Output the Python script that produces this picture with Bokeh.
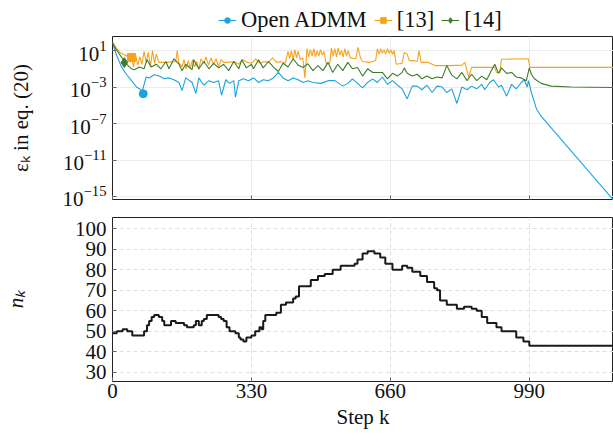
import numpy as np
from bokeh.plotting import figure
from bokeh.layouts import column
from bokeh.models import Range1d, FixedTicker, Legend, LegendItem
from bokeh.embed import file_html
from bokeh.resources import INLINE

# ---------------- data ----------------
# residual eps_k, stored as log10 exponents
admm_k = [0, 9, 21, 33, 47, 57, 71, 80, 87, 99,
          111, 123, 134, 146, 158, 165, 174, 189, 198, 205,
          217, 229, 240, 252, 259, 269, 278, 288, 292, 300,
          311, 323, 335, 347, 358, 370, 382, 394, 405, 417,
          429, 441, 453, 464, 476, 495, 512, 528, 547, 559,
          570, 582, 594, 606, 618, 629, 641, 653, 665, 677,
          688, 700, 712, 724, 735, 747, 759, 771, 783, 794,
          806, 818, 830, 842, 853, 865, 877, 884, 896, 905,
          917, 924, 936, 948, 959, 971, 978, 985, 988, 995,
          1007, 1018, 1190]
admm_exp = [1.8, 0.56, -0.76, -1.6, -2.4, -3.0, -3.4, -1.9, -2.0, -1.65,
            -1.8, -2.1, -2.0, -2.2, -2.5, -3.4, -2.0, -2.5, -3.7, -2.0,
            -2.8, -2.3, -2.5, -2.3, -3.9, -2.2, -2.6, -2.3, -4.1, -2.3,
            -2.1, -2.3, -2.0, -2.5, -2.2, -2.3, -2.0, -1.4, -2.0, -2.3,
            -2.0, -2.2, -2.5, -2.3, -2.5, -2.6, -2.3, -2.3, -2.9, -2.6,
            -2.1, -2.6, -3.1, -2.5, -2.1, -2.5, -1.9, -2.7, -2.3, -2.8,
            -3.2, -4.3, -2.9, -2.9, -3.3, -2.8, -3.6, -2.9, -3.0, -3.6,
            -3.2, -4.8, -3.0, -3.3, -2.9, -3.2, -2.7, -3.3, -2.5, -2.2,
            -3.0, -2.8, -4.0, -2.7, -3.2, -2.5, -2.2, -3.0, -2.3, -3.6,
            -5.4, -6.2, -15.4]

ref13_k = [0, 10, 20, 30, 45, 50, 55, 60, 65, 70,
           75, 80, 85, 90, 95, 100, 104, 110, 130, 150,
           154, 157, 165, 170, 175, 180, 185, 190, 195, 200,
           205, 210, 217, 222, 228, 234, 240, 246, 252, 258,
           264, 275, 290, 300, 310, 320, 330, 340, 350, 360,
           370, 380, 390, 400, 410, 417, 421, 425, 429, 433,
           437, 441, 446, 452, 457, 462, 466, 470, 474, 478,
           482, 486, 490, 494, 498, 502, 508, 516, 520, 524,
           528, 532, 536, 540, 544, 548, 552, 556, 560, 565,
           578, 583, 589, 594, 610, 625, 629, 633, 637, 641,
           645, 649, 653, 657, 661, 665, 669, 674, 688, 693,
           700, 705, 715, 724, 728, 733, 750, 766, 800, 830,
           837, 846, 853, 880, 908, 912, 920, 924, 960, 988,
           991, 1190]
ref13_exp = [2.0, 1.2, 0.7, 0.5, 0.25, -0.8, 0.5, -0.6, 0.3, -0.5,
             0.9, -0.3, 0.8, -0.8, 1.0, -0.4, 0.6, -0.3, -0.3, -0.2,
             1.0, -0.3, -0.8, 0.0, -1.0, -0.1, -0.9, 0.0, -0.8, -0.2,
             -1.1, 0.1, -0.4, 0.3, -0.6, 0.2, -0.5, 0.1, -0.8, 0.0,
             -0.3, -0.3, -0.2, -0.5, 0.0, -0.3, -0.4, 0.1, -0.4, -0.2,
             -0.3, 0.2, -0.3, -0.2, -0.4, 0.9, 0.1, 1.0, 0.0, 1.1,
             0.2, 0.9, 0.0, 0.2, -2.0, 1.2, 0.3, 1.1, 0.4, 1.2,
             0.3, 1.0, 0.4, 1.1, 0.5, 0.9, -0.45, -0.4, 1.3, 0.4,
             1.2, 0.3, 1.3, 0.5, 1.0, 0.3, 1.2, 0.4, 1.0, 0.2,
             0.1, 1.36, 0.2, -0.2, -0.3, -0.1, 1.2, 0.6, 1.2, 0.7,
             1.1, 0.6, 1.2, 0.7, 1.1, 0.6, 1.0, -0.5, -0.4, 0.8,
             0.6, -0.1, -0.1, -0.2, 1.0, -0.3, -0.3, -0.65, -0.65, -0.6,
             -0.3, -1.9, -0.84, -0.84, -0.84, -1.4, -1.4, 0.05, 0.08, 0.1,
             -0.84, -0.84]

ref14_k = [0, 9, 24, 33, 45, 52, 64, 75, 82, 92,
           104, 115, 127, 134, 146, 158, 165, 174, 189, 193,
           205, 217, 229, 240, 252, 264, 276, 288, 300, 307,
           318, 330, 335, 347, 358, 370, 382, 394, 405, 417,
           429, 441, 453, 464, 476, 488, 500, 512, 523, 535,
           547, 559, 570, 582, 594, 606, 618, 629, 641, 653,
           665, 677, 688, 693, 700, 712, 724, 735, 747, 759,
           771, 783, 794, 806, 818, 830, 842, 853, 865, 877,
           889, 900, 908, 917, 924, 936, 948, 959, 971, 983,
           990, 995, 1002, 1018, 1042, 1089, 1190]
ref14_exp = [1.8, 1.1, 0.1, -0.45, -1.0, -1.1, -0.8, -1.0, 0.0, -0.8,
             -0.5, -1.0, -0.2, -1.0, 0.1, -0.5, -1.2, -0.5, -1.1, 0.0,
             -1.0, -0.2, -1.0, -0.4, -0.9, -0.5, -1.2, -0.2, -1.0, 0.0,
             -0.9, -0.5, -1.0, 0.0, -0.9, -0.2, -0.8, -1.3, -0.4, -0.8,
             0.1, -0.6, -0.85, -0.45, -1.2, -0.65, -1.2, -0.3, -1.4, -0.5,
             -1.2, -0.3, -1.0, -0.85, -1.8, -1.0, -1.4, -1.4, -1.4, -2.1,
             -1.5, -1.8, -1.4, -0.9, -1.5, -1.8, -1.6, -2.1, -1.8, -2.1,
             -1.9, -2.0, -0.65, -1.7, -2.1, -1.4, -2.3, -1.6, -2.3, -1.8,
             -2.2, -1.2, -0.5, -1.5, -0.9, -1.5, -1.4, -1.9, -2.0, -2.3,
             -0.9, -1.6, -2.1, -2.6, -2.9, -3.0, -3.05]

# single markers drawn on the curves
admm_mark_k, admm_mark_exp = [73], [-3.74]
ref13_mark_k, ref13_mark_exp = [45], [0.23]
ref14_mark_k, ref14_mark_exp = [28], [-0.32]

# n_k (step plot)
nk_k = [0, 10, 24, 35, 47, 75, 82, 87, 93, 99,
        110, 118, 123, 139, 150, 170, 177, 193, 198, 205,
        212, 217, 224, 245, 252, 258, 264, 271, 278, 292,
        300, 304, 311, 318, 330, 339, 349, 354, 358, 363,
        382, 389, 400, 412, 429, 435, 443, 457, 471, 488,
        504, 523, 542, 559, 575, 582, 594, 606, 622, 636,
        648, 665, 677, 688, 700, 712, 731, 747, 764, 771,
        778, 794, 818, 835, 853, 865, 877, 890, 912, 924,
        948, 959, 976, 990, 1190]
nk_v = [49, 50, 51, 50, 48, 50, 53, 55, 57, 58,
        57, 55, 53, 55, 54, 53, 52, 53, 55, 53,
        55, 56, 58, 58, 57, 56, 55, 52, 50, 49,
        47, 46, 45, 47, 48, 50, 52, 51, 55, 58,
        58, 59, 63, 64, 66, 67, 72, 72, 75, 77,
        78, 80, 82, 82, 83, 85, 88, 89, 88, 86,
        83, 80, 80, 82, 81, 79, 77, 74, 71, 70,
        65, 63, 61, 62, 61, 60, 57, 54, 52, 50,
        50, 47, 45, 43, 43]

x_ticks = [0, 330, 660, 990]
eps_ticks = [1e1, 1e-3, 1e-7, 1e-11, 1e-15]
n_ticks = [30, 40, 50, 60, 70, 80, 90, 100]
labels = ["Open ADMM", "[13]", "[14]"]

# ---------------- styling ----------------
FONT = "Liberation Serif"
FS = "21px"
BLUE = "#1aa3e3"
ORANGE = "#f8a21c"
GREEN = "#3b7d2b"
W = 613
LEFT = 108


def style_axes(p):
    for ax in p.axis:
        ax.major_tick_in = 4
        ax.major_tick_out = 0
        ax.minor_tick_line_color = None
        ax.axis_line_color = None
        ax.major_tick_line_color = "#666666"
        ax.major_label_text_font = FONT
        ax.major_label_text_font_size = FS
        ax.major_label_text_color = "#111111"
        ax.axis_label_text_font = FONT
        ax.axis_label_text_font_size = FS
        ax.axis_label_text_font_style = "normal"
        ax.axis_label_text_color = "#111111"
    p.outline_line_color = "#222222"
    p.outline_line_width = 1


x_range = Range1d(0, 1190)

# ---- legend strip: its own small figure; its renderers hold the marker
# points, which fall outside this strip's ranges, so only the legend shows ----
p0 = figure(width=W, height=36, x_range=Range1d(0, 1), y_range=Range1d(0, 1),
            output_backend="svg", toolbar_location=None,
            min_border_left=LEFT, min_border_right=0, min_border_top=0,
            min_border_bottom=0)
p0.axis.visible = False
p0.grid.visible = False
p0.outline_line_color = None
ya = np.power(10.0, admm_mark_exp)
yb = np.power(10.0, ref13_mark_exp)
yc = np.power(10.0, ref14_mark_exp)
la = p0.line(admm_mark_k, ya, line_color=BLUE, line_width=1.1)
sa = p0.scatter(admm_mark_k, ya, marker="circle", size=7, color=BLUE)
lb = p0.line(ref13_mark_k, yb, line_color=ORANGE, line_width=1.1)
sb = p0.scatter(ref13_mark_k, yb, marker="square", size=7, color=ORANGE)
lc = p0.line(ref14_mark_k, yc, line_color=GREEN, line_width=1.1)
sc = p0.scatter(ref14_mark_k, yc, marker="diamond", size=9, color=GREEN)
legend = Legend(items=[LegendItem(label=labels[0], renderers=[la, sa]),
                       LegendItem(label=labels[1], renderers=[lb, sb]),
                       LegendItem(label=labels[2], renderers=[lc, sc])],
                orientation="horizontal", location=(106, 3),
                border_line_color=None, background_fill_alpha=0,
                label_text_font=FONT, label_text_font_size="22.5px",
                label_text_color="#111111",
                glyph_width=18, glyph_height=14, label_standoff=5,
                spacing=7, padding=2, margin=0)
p0.add_layout(legend)

# ---- top panel ----
p1 = figure(width=W, height=175, x_range=x_range,
            y_range=Range1d(10 ** -15.33, 10 ** 2.54), y_axis_type="log",
            output_backend="svg", toolbar_location=None,
            min_border_left=LEFT, min_border_right=0, min_border_top=0,
            min_border_bottom=12)

p1.line(admm_k, np.power(10.0, admm_exp), line_color=BLUE, line_width=1.1)
p1.scatter(admm_mark_k, ya, marker="circle", size=8, color=BLUE)
p1.line(ref13_k, np.power(10.0, ref13_exp), line_color=ORANGE, line_width=1.1)
p1.scatter(ref13_mark_k, yb, marker="square", size=8, color=ORANGE)
p1.line(ref14_k, np.power(10.0, ref14_exp), line_color=GREEN, line_width=1.1)
p1.scatter(ref14_mark_k, yc, marker="diamond", size=10, color=GREEN)

style_axes(p1)
p1.xaxis.ticker = FixedTicker(ticks=x_ticks)
p1.yaxis.ticker = FixedTicker(ticks=eps_ticks)
p1.xaxis.major_label_overrides = {t: "" for t in x_ticks}
p1.xaxis.major_label_standoff = 0
p1.yaxis.axis_label = "εₖ in eq. (20)"
p1.yaxis.axis_label_standoff = 27
p1.yaxis.major_label_standoff = 6
p1.grid.grid_line_color = "#ececec"

# ---- bottom panel ----
p2 = figure(width=W, height=223, x_range=x_range, y_range=Range1d(25.5, 105.5),
            output_backend="svg", toolbar_location=None,
            min_border_left=LEFT, min_border_right=0, min_border_top=6,
            min_border_bottom=53)
p2.step(nk_k, nk_v, mode="after", line_color="#1a1a1a", line_width=2)
style_axes(p2)
p2.xaxis.ticker = FixedTicker(ticks=x_ticks)
p2.yaxis.ticker = FixedTicker(ticks=n_ticks)
p2.xaxis.axis_label = "Step k"
p2.xaxis.axis_label_standoff = 4
p2.xaxis.major_label_standoff = 2
p2.yaxis.axis_label = "nₖ"
p2.yaxis.axis_label_text_font_style = "italic"
p2.yaxis.axis_label_standoff = 44
p2.yaxis.major_label_standoff = 6
p2.grid.grid_line_color = "#dedede"
p2.grid.grid_line_dash = "4 3"

layout = column(p0, p1, p2, spacing=0)
open("out.html", "w").write(file_html(layout, INLINE))
